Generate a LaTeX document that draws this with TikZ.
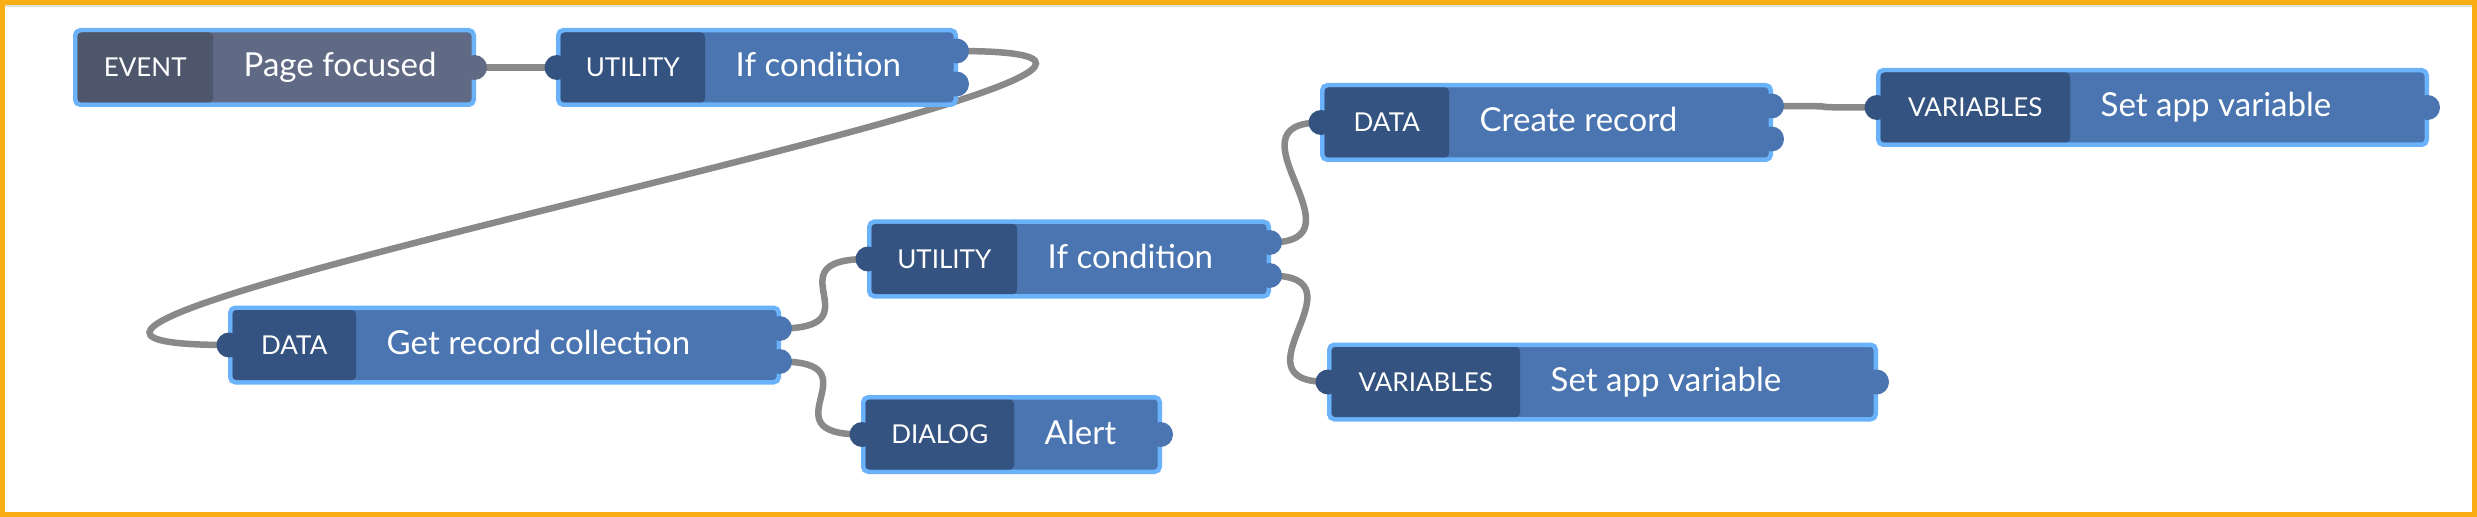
\documentclass[tikz,border=0pt]{standalone}
\usepackage{fontspec}
\setmainfont{Lato}
\usepackage{tikz}
\usetikzlibrary{backgrounds,positioning}
\definecolor{frameOrange}{RGB}{250,174,22}
\definecolor{wireGray}{RGB}{137,137,137}
\definecolor{rim}{RGB}{106,178,250}
\definecolor{op-body}{RGB}{74,117,177}
\definecolor{op-tag}{RGB}{52,83,128}
\definecolor{ev-body}{RGB}{96,106,133}
\definecolor{ev-tag}{RGB}{77,86,107}

\begin{document}
\begin{tikzpicture}[
  block/.style={draw=rim, line width=0.045cm, rounded corners=0.05cm,
    minimum height=0.745cm, inner sep=0pt, anchor=west},
  tagbox/.style={rounded corners=0.04cm, minimum height=0.70cm, inner sep=0pt,
    outer sep=0pt, anchor=west, text=white, font=\fontsize{7.4}{8}\selectfont},
  lbl/.style={anchor=base west, inner sep=0pt, text=white,
    font=\fontsize{9.4}{11}\selectfont},
  port/.style={circle, minimum size=0.25cm, inner sep=0pt},
  wire/.style={draw=wireGray, line width=0.065cm}]
\useasboundingbox (0,0) rectangle (24.77,-5.17);
\draw[frameOrange, line width=0.05cm] (0.025,-0.025) rectangle (24.745,-5.145);
\draw[black!12, line width=0.015cm] (0.05,-0.06) -- (24.72,-0.06);

% blocks: name/left/middle/width/tag width/colours/tag/text
\foreach \n/\x/\y/\w/\tw/\s/\tg/\lab in {
  ev/0.73/0.675/4.03/1.40/ev/EVENT/Page focused,
  u1/5.56/0.675/4.02/1.49/op/UTILITY/If condition,
  grc/2.28/3.45/5.53/1.28/op/DATA/Get record collection,
  al/8.61/4.345/3.01/1.53/op/DIALOG/Alert,
  u2/8.67/2.59/4.04/1.50/op/UTILITY/If condition,
  cr/13.20/1.225/4.53/1.29/op/DATA/Create record,
  sv1/18.76/1.075/5.53/1.94/op/VARIABLES/Set app variable,
  sv2/13.27/3.82/5.51/1.93/op/VARIABLES/Set app variable}{
  \node[block, fill=\s-body, minimum width=\w cm-0.045cm] (\n) at (\x,-\y) {};
  \node[tagbox, fill=\s-tag, minimum width=\tw cm-0.045cm] (\n-tag)
    at ([xshift=0.045cm]\n.west) {\tg};
  \node[lbl] (\n-lbl) at ([xshift=0.3cm,yshift=-0.095cm]\n-tag.east) {\lab};
}

% ports
\foreach \n in {u1,grc,al,u2,cr,sv1,sv2}
  \node[port, fill=op-tag] (\n-in) at ([xshift=0.01cm]\n.west) {};
\node[port, fill=ev-body] (ev-out) at ([xshift=-0.015cm]ev.east) {};
\foreach \n in {al,sv1,sv2}
  \node[port, fill=op-body] (\n-out) at ([xshift=-0.015cm]\n.east) {};
\foreach \n in {u1,grc,u2,cr}{
  \node[port, fill=op-body] (\n-outa) at ([xshift=-0.015cm,yshift=0.165cm]\n.east) {};
  \node[port, fill=op-body] (\n-outb) at ([xshift=-0.015cm,yshift=-0.165cm]\n.east) {};
}

% wires
\begin{scope}[on background layer]
\draw[wire] (ev-out.center) -- (u1-in.center);
\draw[wire] (u1-outa.center) .. controls +(4.5,0) and +(-4.5,0) .. (grc-in.center);
\foreach \a/\b in {grc-outa/u2-in, grc-outb/al-in, u2-outa/cr-in,
  u2-outb/sv2-in, cr-outa/sv1-in}
  \draw[wire] (\a.center) .. controls +(1,0) and +(-1,0) .. (\b.center);
\end{scope}
\end{tikzpicture}
\end{document}
